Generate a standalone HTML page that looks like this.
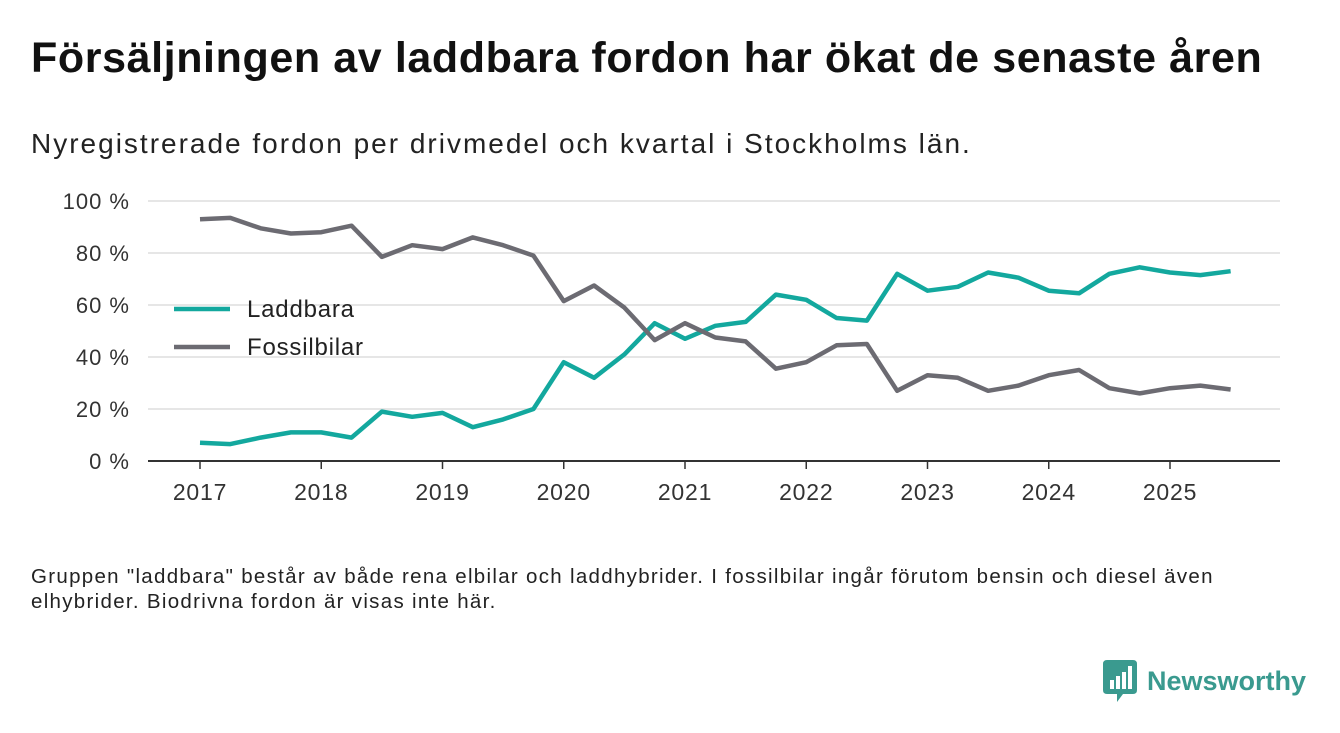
<!DOCTYPE html>
<html><head><meta charset="utf-8"><style>
body{margin:0;width:1340px;height:733px;background:#fff;font-family:"Liberation Sans","DejaVu Sans",sans-serif;color:#111;position:relative;overflow:hidden}
#title{position:absolute;left:31px;top:34px;font-size:43px;font-weight:bold;margin:0;letter-spacing:0.6px;white-space:nowrap}
#sub{position:absolute;left:31px;top:128px;font-size:28px;color:#222;letter-spacing:2px;white-space:nowrap}
#note{position:absolute;left:31px;top:564px;font-size:20.5px;line-height:25px;color:#222;letter-spacing:1.3px;white-space:nowrap}
#logo{position:absolute;left:1103px;top:660px;display:flex;align-items:center}
#logo span{font-size:27px;color:#3a9a8f;font-weight:bold;margin-left:10px}
svg{position:absolute;left:0;top:0}
</style></head><body>
<h1 id="title">Försäljningen av laddbara fordon har ökat de senaste åren</h1>
<div id="sub">Nyregistrerade fordon per drivmedel och kvartal i Stockholms län.</div>
<svg id="chart" width="1340" height="733"></svg>
<div id="note">Gruppen "laddbara" består av både rena elbilar och laddhybrider. I fossilbilar ingår förutom bensin och diesel även<br>elhybrider. Biodrivna fordon är visas inte här.</div>
<div id="logo">
<svg width="34" height="42" style="position:static"><path d="M0 4 Q0 0 4 0 H30 Q34 0 34 4 V30 Q34 34 30 34 H20 L14 42 L14 34 H4 Q0 34 0 30Z" fill="#3a9a8f"/><rect x="7" y="20" width="4" height="9" fill="#fff"/><rect x="13" y="16" width="4" height="13" fill="#fff"/><rect x="19" y="12" width="4" height="17" fill="#fff"/><rect x="25" y="6" width="4" height="23" fill="#fff"/></svg>
<span>Newsworthy</span></div>
<script>
const years=[2017,2018,2019,2020,2021,2022,2023,2024,2025];
const yTicks=[0,20,40,60,80,100];
const laddbara=[7,6.5,9,11,11,9,19,17,18.5,13,16,20,38,32,41,53,47,52,53.5,64,62,55,54,72,65.5,67,72.5,70.5,65.5,64.5,72,74.5,72.5,71.5,73];
const fossil=[93,93.5,89.5,87.5,88,90.5,78.5,83,81.5,86,83,79,61.5,67.5,59,46.5,53,47.5,46,35.5,38,44.5,45,27,33,32,27,29,33,35,28,26,28,29,27.5];
const svg=document.getElementById('chart');const NS='http://www.w3.org/2000/svg';
const x=t=>200+(t-2017)*121.25;const y=v=>461-v*2.6;
function mk(tag,a){const e=document.createElementNS(NS,tag);for(const k in a)e.setAttribute(k,a[k]);svg.appendChild(e);return e;}
yTicks.forEach(v=>{
 const l=mk('line',{x1:148,x2:1280,y1:y(v),y2:y(v),stroke:v?'#ddd':'#333','stroke-width':v?1.5:2});
 
 
 const t=mk('text',{x:130,y:y(v)+8,'text-anchor':'end','font-size':22,'letter-spacing':1,fill:'#333'});t.textContent=v+' %';
 
 
});
years.forEach(yr=>{
 const l=mk('line',{x1:x(yr),x2:x(yr),y1:461,y2:469,stroke:'#333','stroke-width':1.5});
 
 
 const t=mk('text',{x:x(yr),y:500,'text-anchor':'middle','font-size':23,'letter-spacing':0.8,fill:'#333'});t.textContent=yr;
 
 
});
function line(d,c,n){const p=mk('path',{d:d.map((v,i)=>(i?'L':'M')+x(2017+i/4)+' '+y(v)).join(''),fill:'none',stroke:c,'stroke-width':4.5,'stroke-linejoin':'round'});
 
 }
line(laddbara,'#13a89e','line-laddbara');line(fossil,'#6c6b72','line-fossilbilar');
[['Laddbara','#13a89e',309],['Fossilbilar','#6c6b72',347]].forEach(([n,c,yy])=>{
 const l=mk('line',{x1:174,x2:230,y1:yy,y2:yy,stroke:c,'stroke-width':4.5});
 
 
 const t=mk('text',{x:247,y:yy+8,'font-size':24,'letter-spacing':0.8,fill:'#222'});t.textContent=n;
 
 
});
</script>
</body></html>
